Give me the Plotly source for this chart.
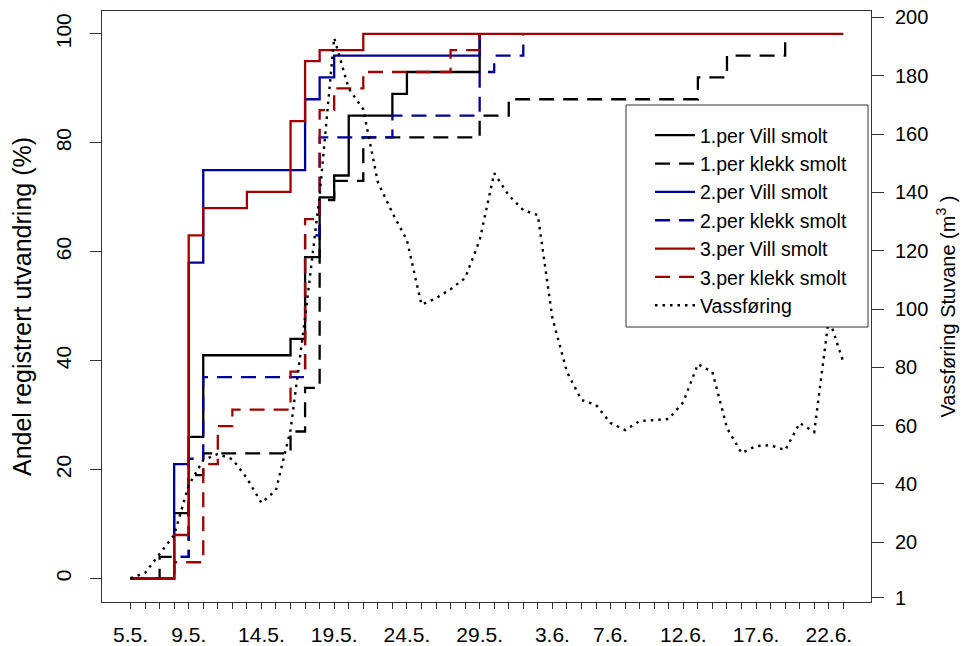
import plotly.graph_objects as go

# ---------------- data ----------------
# x = days after 5 May
label_days = [0, 4, 9, 14, 19, 24, 29, 33, 38, 43, 48]
label_text = ["5.5.", "9.5.", "14.5.", "19.5.", "24.5.", "29.5.", "3.6.", "7.6.", "12.6.", "17.6.", "22.6."]
all_days = list(range(0, 50))

per1_vill_days = [0, 3, 4, 5, 11, 12, 13, 14, 15, 18, 19, 24]
per1_vill_pct = [0, 12, 26, 41, 44, 59, 70, 74, 85, 89, 93, 100]

per1_klekk_days = [0, 2, 4, 5, 11, 12, 13, 14, 16, 24, 26, 39, 41, 45]
per1_klekk_pct = [0, 4, 19, 23, 27, 35, 69.5, 73, 81, 85, 88, 92, 96, 100]

per2_vill_days = [0, 3, 4, 5, 12, 13, 14, 24]
per2_vill_pct = [0, 21, 58, 75, 88, 92, 96, 100]

per2_klekk_days = [0, 3, 4, 5, 12, 13, 18, 24, 25, 27]
per2_klekk_pct = [0, 4, 22, 37, 63, 81, 85, 93, 96, 100]

per3_vill_days = [0, 3, 4, 5, 8, 11, 12, 13, 16, 49]
per3_vill_pct = [0, 8, 63, 68, 71, 84, 95, 97, 100, 100]

per3_klekk_days = [0, 3, 5, 6, 7, 11, 12, 13, 14, 16, 22, 24]
per3_klekk_pct = [0, 3, 21, 28, 31, 38, 66, 86, 90, 93, 97, 100]

vass_days = list(range(0, 50))
vass_flow = [7.7, 9.5, 16, 22.5, 39.6, 48.2, 50.3, 48.5, 42, 33.5,
             37.9, 58.5, 97, 139, 193, 175.6, 168.5, 143.5, 133, 123.6,
             101.5, 103.7, 106.8, 110.6, 123.6, 146.6, 139, 133.9, 132.2, 96.9,
             78.4, 68.8, 67.1, 60.9, 58.5, 61.6, 61.9, 62.3, 68.1, 81.1,
             78.4, 59.2, 50.6, 53, 53.3, 51.6, 60.9, 57.8, 97, 81.8]

right_ticks = [1, 20, 40, 60, 80, 100, 120, 140, 160, 180, 200]
left_ticks = [0, 20, 40, 60, 80, 100]

# ---------------- styling ----------------
FONT = "Liberation Sans, Arial, sans-serif"
BLACK = "#000000"
BLUE = "#00009a"
RED = "#a00000"
DASH = "15px,9px"
DOT = "2.5px,5px"
LW = 2.3

series = [
    ("1.per Vill smolt", per1_vill_days, per1_vill_pct, BLACK, "solid"),
    ("1.per klekk smolt", per1_klekk_days, per1_klekk_pct, BLACK, DASH),
    ("2.per Vill smolt", per2_vill_days, per2_vill_pct, BLUE, "solid"),
    ("2.per klekk smolt", per2_klekk_days, per2_klekk_pct, BLUE, DASH),
    ("3.per Vill smolt", per3_vill_days, per3_vill_pct, RED, "solid"),
    ("3.per klekk smolt", per3_klekk_days, per3_klekk_pct, RED, DASH),
]

fig = go.Figure()
for name, xs, ys, col, dash in series:
    fig.add_trace(go.Scatter(
        x=xs, y=ys, name=name, mode="lines",
        line=dict(color=col, width=LW, dash=dash, shape="hv"),
        yaxis="y",
    ))

fig.add_trace(go.Scatter(
    x=vass_days, y=vass_flow, name="Vassføring", mode="lines",
    line=dict(color=BLACK, width=2.4, dash=DOT),
    yaxis="y2",
))

W, H = 964, 646
L, R, T, B = 102, 93, 11, 44
pw, ph = W - L - R, H - T - B

def px_x(x):
    return (x - L) / pw

def px_y(y):
    return (H - B - y) / ph

tick_text_all = [label_text[label_days.index(d)] if d in label_days else "" for d in all_days]

fig.update_layout(
    width=W, height=H,
    margin=dict(l=L, r=R, t=T, b=B, pad=0, autoexpand=False),
    paper_bgcolor="white", plot_bgcolor="white",
    font=dict(family=FONT, size=20, color="black"),
    showlegend=True,
    legend=dict(
        x=px_x(650), y=px_y(116), xanchor="left", yanchor="top",
        bgcolor="rgba(0,0,0,0)", borderwidth=0,
        font=dict(family=FONT, size=19.5, color="black"),
        tracegroupgap=0, itemwidth=40,
    ),
    xaxis=dict(
        range=[-1.96, 50.9], tickmode="array", tickvals=all_days, ticktext=tick_text_all,
        ticks="outside", ticklen=6, tickwidth=1, tickcolor="#333",
        showline=True, linecolor="#333", linewidth=1, mirror=True,
        showgrid=False, zeroline=False, ticklabelstandoff=8, automargin=False,
        tickfont=dict(size=21),
    ),
    yaxis=dict(
        range=[-4.3, 104.2], tickmode="array", tickvals=left_ticks,
        ticktext=[str(v) for v in left_ticks], tickangle=-90,
        ticks="outside", ticklen=11, tickwidth=1, tickcolor="#333",
        showline=True, linecolor="#333", linewidth=1, mirror=True,
        showgrid=False, zeroline=False, ticklabelstandoff=11, automargin=False,
        title=dict(text="Andel registrert utvandring (%)", font=dict(size=25), standoff=12),
        tickfont=dict(size=21),
    ),
    yaxis2=dict(
        range=[-0.47, 202.2], overlaying="y", side="right", tickmode="array",
        tickvals=right_ticks, ticktext=[str(v) for v in right_ticks],
        ticks="outside", ticklen=12, tickwidth=1, tickcolor="#333",
        showline=True, linecolor="#333", linewidth=1,
        showgrid=False, zeroline=False, ticklabelstandoff=7, automargin=False,
        title=dict(text="Vassføring Stuvane (m<sup>3</sup> )", font=dict(size=20), standoff=13),
        tickfont=dict(size=20),
    ),
    shapes=[dict(
        type="rect", xref="paper", yref="paper",
        x0=px_x(626), x1=px_x(868), y0=px_y(327), y1=px_y(105),
        line=dict(color="#333", width=1), fillcolor="white", layer="above",
    )],
)

fig.write_html("out.html")
